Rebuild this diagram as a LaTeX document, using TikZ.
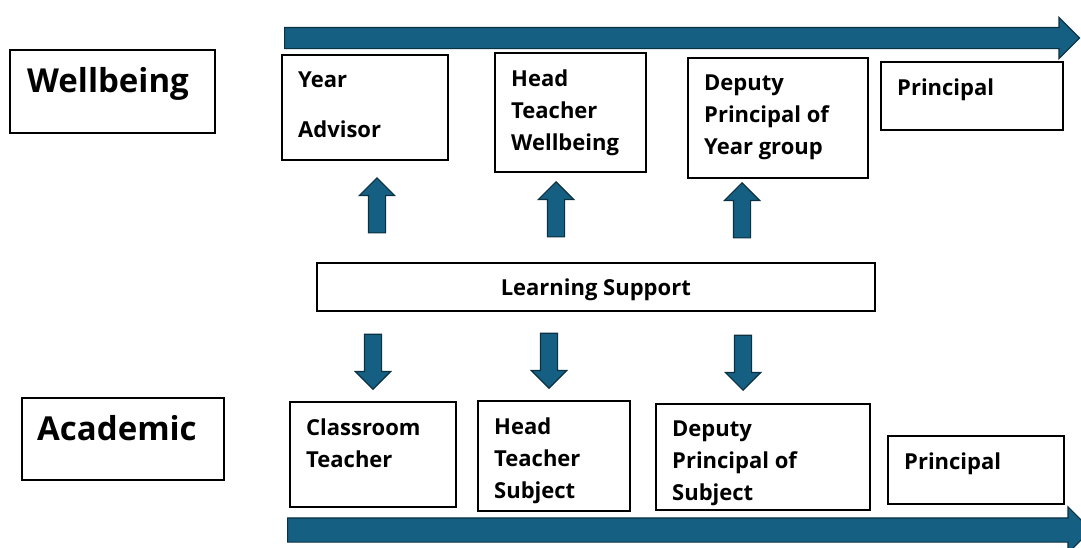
\documentclass[tikz,border=0pt]{standalone}
\usepackage{fontspec}
\setmainfont{Open Sans}
\usetikzlibrary{shapes.arrows}
\definecolor{flowblue}{RGB}{21,96,130}
\definecolor{flowedge}{RGB}{10,48,65}
\tikzset{
  role/.style={draw=black, line width=1.6pt, anchor=north west, inner sep=0pt},
  role-text/.style={anchor=north west, inner sep=0pt, align=left,
    font=\fontsize{22}{32}\selectfont\bfseries,
    execute at begin node=\rule{0pt}{17pt}},
  stream-text/.style={anchor=base west, inner sep=0pt,
    font=\fontsize{33}{40}\selectfont\bfseries},
  block-arrow/.style={single arrow, fill=flowblue, draw=flowedge, line width=1.2pt,
    inner xsep=0pt, minimum width=1pt, single arrow head indent=0pt},
  small-arrow/.style={block-arrow, inner ysep=8pt, single arrow head extend=9pt,
    minimum height=55pt, anchor=tip}
}
% box with its text set from the top left corner
\newcommand{\rolebox}[6]{%
  \node[role, minimum width=#4pt, minimum height=#5pt] (#1) at (#2,#3) {};
  \node[role-text] (#1-text) at ([shift={(17,17.5)}]#1.north west) {#6};
}

\begin{document}
\begin{tikzpicture}[x=1pt, y=-1pt]
  \useasboundingbox (0,0) rectangle (1081,547);
  % career arrows
  \node[block-arrow, inner ysep=10pt, single arrow head extend=10pt,
    minimum height=795pt, anchor=tail] (path-top) at (284,38) {};
  \node[block-arrow, inner ysep=11.5pt, single arrow head extend=11pt,
    minimum height=803.5pt, anchor=tail] (path-bottom) at (287,530) {};
  % streams
  \node[role, minimum width=205pt, minimum height=83pt] (well) at (9,49) {};
  \node[stream-text] (well-text) at ([shift={(18,43)}]well.north west) {Wellbeing};
  \node[role, minimum width=202pt, minimum height=82pt] (acad) at (21,397) {};
  \node[stream-text] (acad-text) at ([shift={(16,43)}]acad.north west) {Academic};
  % wellbeing roles
  \rolebox{ya}{281}{54}{166}{105}{Year\\[18pt]Advisor}
  \rolebox{htw}{494}{52}{151}{119}{Head\\Teacher\\Wellbeing}
  \rolebox{dpy}{687}{57}{180}{120}{Deputy\\Principal of\\Year group}
  \rolebox{pw}{880}{61}{182}{68}{Principal}
  % academic roles
  \rolebox{ct}{289}{401}{166}{105}{Classroom\\Teacher}
  \rolebox{hts}{477}{400}{152}{110}{Head\\Teacher\\Subject}
  \rolebox{dps}{655}{403}{214}{106}{Deputy\\Principal of\\Subject}
  \rolebox{pa}{887}{435}{176}{68}{Principal}
  % learning support in the middle
  \node[role, minimum width=558pt, minimum height=48pt, text height=18pt, text depth=0pt,
    font=\fontsize{22}{26}\selectfont\bfseries] (ls) at (316,262) {Learning Support};
  \foreach \x/\y/\n in {377/177/1, 556/181/2, 742/182/3} {
    \node[small-arrow, rotate=90] (up-\n) at (\x,\y) {};
  }
  \foreach \x/\y/\n in {373/390/1, 549/389/2, 743/391/3} {
    \node[small-arrow, rotate=-90] (down-\n) at (\x,\y) {};
  }
\end{tikzpicture}
\end{document}
